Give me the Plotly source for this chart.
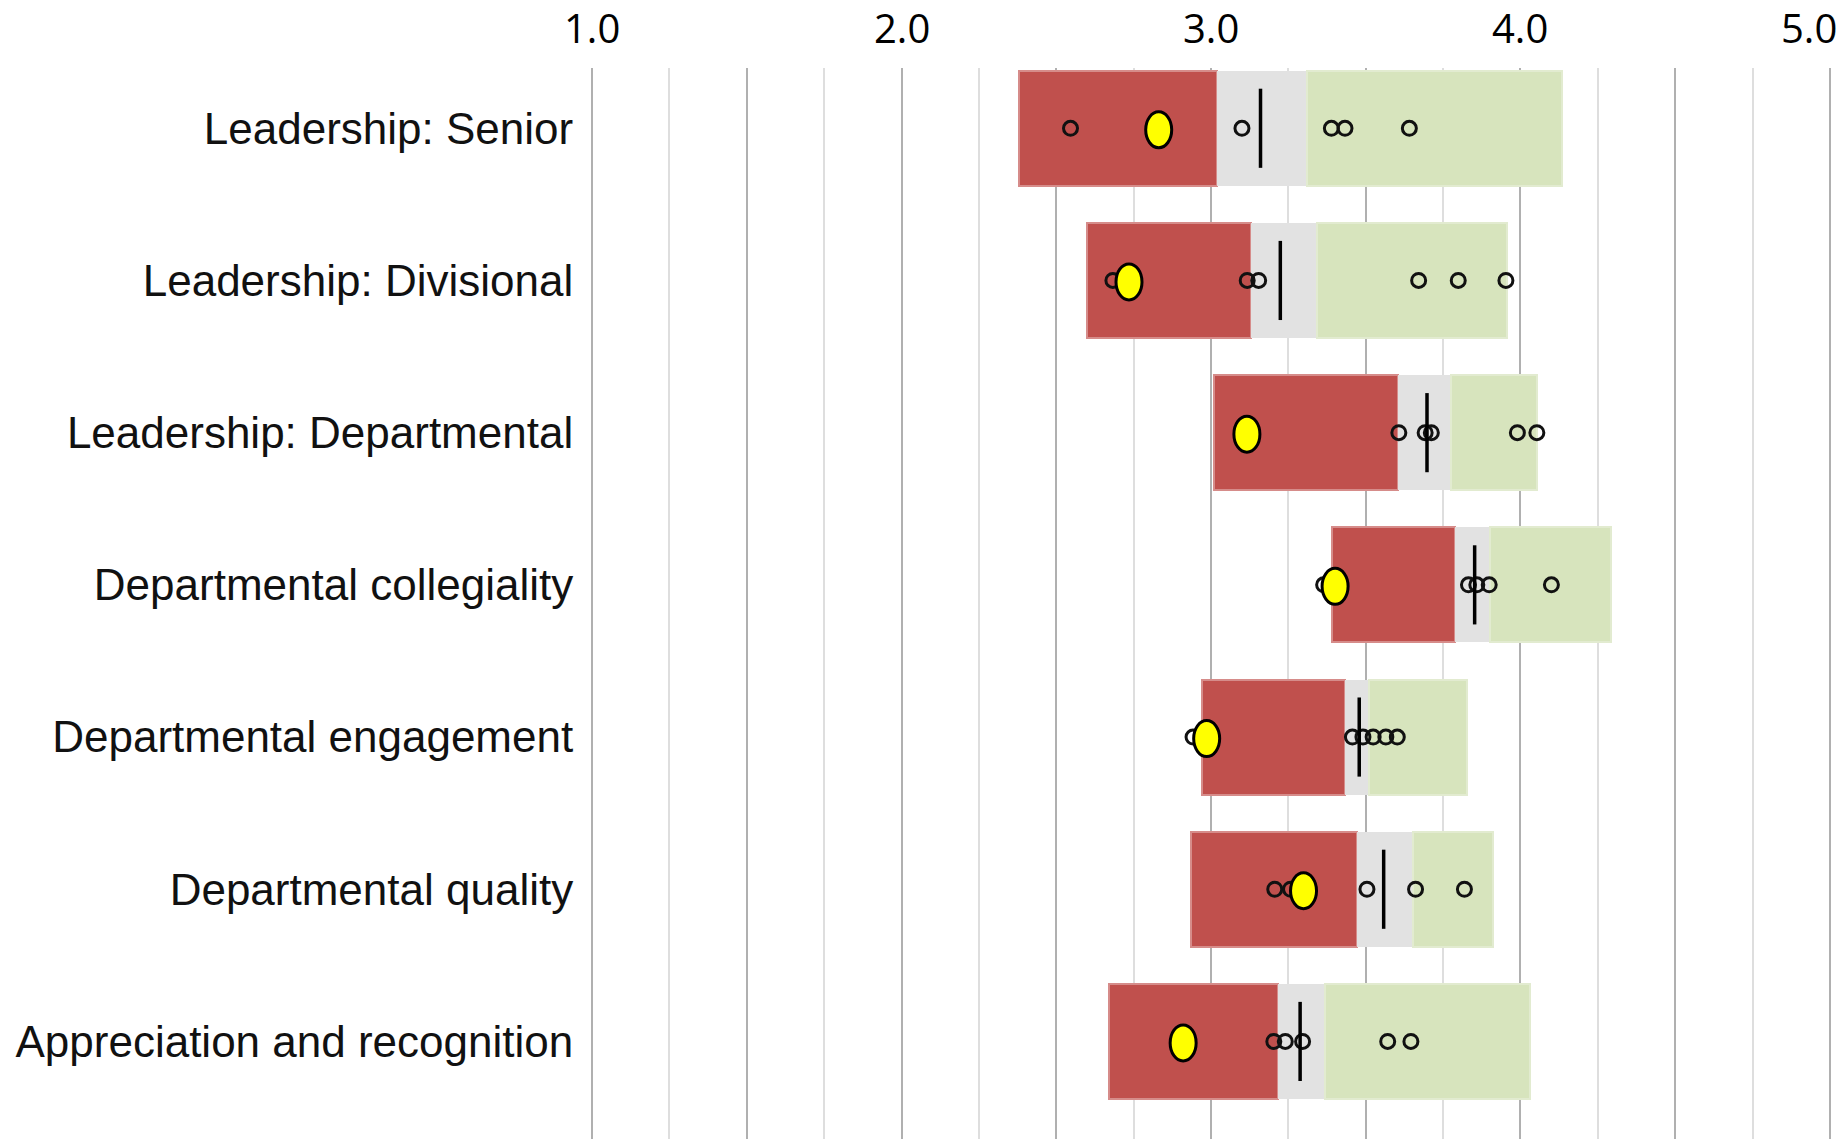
import plotly.graph_objects as go

categories = [
    "Leadership: Senior",
    "Leadership: Divisional",
    "Leadership: Departmental",
    "Departmental collegiality",
    "Departmental engagement",
    "Departmental quality",
    "Appreciation and recognition",
]

# band edges: red from low to q1, grey from q1 to q3, green from q3 to high
low_vals = [2.38, 2.60, 3.01, 3.39, 2.97, 2.935, 2.67]
q1_vals = [3.02, 3.13, 3.605, 3.79, 3.433, 3.473, 3.216]
q3_vals = [3.31, 3.343, 3.776, 3.903, 3.511, 3.652, 3.368]
high_vals = [4.133, 3.956, 4.053, 4.294, 3.828, 3.91, 4.03]
median_vals = [3.16, 3.224, 3.698, 3.852, 3.479, 3.558, 3.288]
yellow_vals = [2.831, 2.735, 3.116, 3.401, 2.986, 3.299, 2.91]
comparator_vals = [
    [2.546, 3.10, 3.389, 3.433, 3.641],
    [2.683, 3.117, 3.154, 3.671, 3.799, 3.953],
    [3.607, 3.692, 3.712, 3.99, 4.053],
    [3.364, 3.832, 3.859, 3.899, 4.10],
    [2.942, 3.457, 3.491, 3.524, 3.565, 3.602],
    [3.206, 3.257, 3.504, 3.661, 3.819],
    [3.203, 3.240, 3.296, 3.571, 3.646],
]
tick_vals = [1.0, 2.0, 3.0, 4.0, 5.0]
tick_text = ["1.0", "2.0", "3.0", "4.0", "5.0"]

rows = list(range(len(categories)))
BAR_W = 0.756

fig = go.Figure()

fig.add_trace(go.Bar(
    y=rows, x=[q - l for q, l in zip(q1_vals, low_vals)], base=low_vals,
    orientation="h", width=BAR_W,
    marker=dict(color="#c0504d", line=dict(color="rgba(214,140,138,1)", width=2)),
    hoverinfo="skip", showlegend=False,
))
fig.add_trace(go.Bar(
    y=rows, x=[b - a for a, b in zip(q1_vals, q3_vals)], base=q1_vals,
    orientation="h", width=BAR_W,
    marker=dict(color="#e2e2e2", line=dict(width=0)),
    hoverinfo="skip", showlegend=False,
))
fig.add_trace(go.Bar(
    y=rows, x=[h - q for q, h in zip(q3_vals, high_vals)], base=q3_vals,
    orientation="h", width=BAR_W,
    marker=dict(color="#d7e4bd", line=dict(color="#e2ebd0", width=2)),
    hoverinfo="skip", showlegend=False,
))

# comparator circles
cx, cy = [], []
for i, vals in enumerate(comparator_vals):
    for v in vals:
        cx.append(v)
        cy.append(i)
fig.add_trace(go.Scatter(
    x=cx, y=cy, mode="markers",
    marker=dict(symbol="circle-open", size=14, color="#111111", line=dict(width=3)),
    hoverinfo="skip", showlegend=False,
))

# median lines
mx, my = [], []
for i, m in enumerate(median_vals):
    mx += [m, m, None]
    my += [i - 0.26, i + 0.26, None]
fig.add_trace(go.Scatter(
    x=mx, y=my, mode="lines", line=dict(color="#000000", width=3.5),
    hoverinfo="skip", showlegend=False,
))

# yellow ellipses (own score)
shapes = []
for i, v in enumerate(yellow_vals):
    shapes.append(dict(
        type="circle", xref="x", yref="y",
        xsizemode="pixel", ysizemode="pixel",
        xanchor=v, yanchor=i,
        x0=-13, x1=13, y0=-19.5, y1=16.5,
        fillcolor="#ffff00", line=dict(color="#000000", width=3),
        layer="above",
    ))

annotations = []
for tv, tt in zip(tick_vals, tick_text):
    last = tv == tick_vals[-1]
    annotations.append(dict(
        x=tv, y=1, xref="x", yref="paper",
        text=tt, showarrow=False,
        xanchor="right" if last else "center", yanchor="middle",
        xshift=9 if last else 0, yshift=41,
        font=dict(family="Open Sans, sans-serif", size=40, color="#000000"),
    ))

fig.update_layout(
    width=1845, height=1139,
    margin=dict(l=589, r=12, t=68, b=0, pad=0),
    paper_bgcolor="white", plot_bgcolor="white",
    barmode="overlay", bargap=0,
    shapes=shapes, annotations=annotations,
    xaxis=dict(
        range=[0.99, 5.01], side="top", showticklabels=False, ticks="",
        showgrid=True, dtick=0.5, tick0=1, gridcolor="#b0b0b0", gridwidth=2,
        minor=dict(dtick=0.25, tick0=1, showgrid=True, gridcolor="#dedede", gridwidth=2),
        zeroline=False, showline=False, fixedrange=True,
    ),
    yaxis=dict(
        range=[6.641, -0.396], tickmode="array", tickvals=rows, ticktext=categories,
        tickfont=dict(family="Liberation Sans, Arial, sans-serif", size=44, color="#111111"),
        ticks="outside", ticklen=6, tickcolor="rgba(0,0,0,0)",
        showgrid=False, zeroline=False, showline=False, fixedrange=True,
    ),
)

fig.write_html(
    "out.html",
    config={"displayModeBar": False},
    post_script="document.body.style.margin='0';document.body.style.overflow='hidden';",
)
